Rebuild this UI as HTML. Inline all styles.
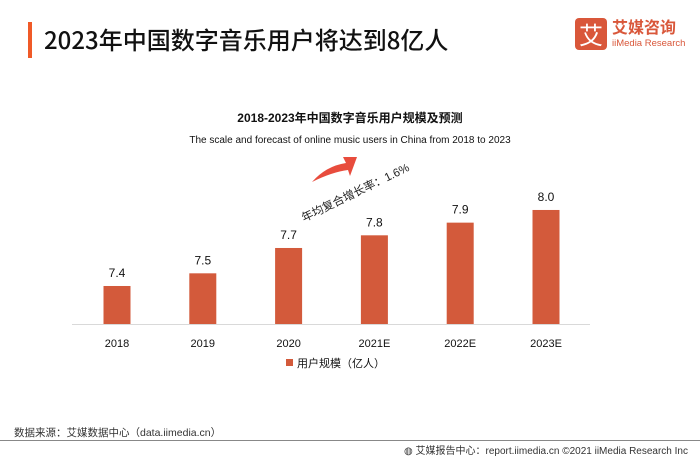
<!DOCTYPE html>
<html><head><meta charset="utf-8"><style>
body{margin:0;width:700px;height:455px;background:#fff;overflow:hidden;font-family:"Liberation Sans","Noto Sans CJK SC",sans-serif;position:relative}
.a{position:absolute;white-space:nowrap}
</style></head><body>
<div class="a" style="left:28px;top:22px;width:4px;height:36px;background:#f05a28"></div>
<div class="a" style="left:44px;top:22px;font-size:24px;color:#111;font-weight:500;font-family:'Noto Sans CJK SC',sans-serif;line-height:34px">2023年中国数字音乐用户将达到8亿人</div>
<div class="a" style="left:575px;top:18px;width:32px;height:32px;background:#d9573a;border-radius:4px;color:#fff;font-size:24px;line-height:32px;text-align:center;font-family:'Noto Sans CJK SC',sans-serif">艾</div>
<div class="a" style="left:612px;top:16px;font-size:16px;color:#d9573a;font-weight:bold;font-family:'Noto Sans CJK SC',sans-serif;line-height:20px">艾媒咨询</div>
<div class="a" style="left:612px;top:38px;font-size:9.5px;color:#d9573a">iiMedia Research</div>
<svg class="a" style="left:0;top:0" width="700" height="455">
<text x="350" y="122" text-anchor="middle" font-size="12" font-weight="bold" fill="#111" font-family="Liberation Sans,Noto Sans CJK SC,sans-serif">2018-2023年中国数字音乐用户规模及预测</text>
<text x="350" y="143" text-anchor="middle" font-size="10" fill="#111">The scale and forecast of online music users in China from 2018 to 2023</text>
<line x1="72" y1="324.5" x2="590" y2="324.5" stroke="#d9d9d9"/>
<path d="M312,182 Q326,166 346,163 L343,157 L357,157 L350,176 L348,170 Q332,172 312,182 Z" fill="#e84c3d"/>
<text transform="translate(304,222) rotate(-26)" font-size="11.5" fill="#222" font-family="Liberation Sans,Noto Sans CJK SC,sans-serif">年均复合增长率：1.6%</text>
<g id="bars"></g>
<rect x="286" y="359" width="7" height="7" fill="#d35a3b"/>
<text x="297" y="367" font-size="11" fill="#111" font-family="Liberation Sans,Noto Sans CJK SC,sans-serif">用户规模（亿人）</text>
</svg>
<div class="a" style="left:14px;top:425px;font-size:10.5px;color:#333">数据来源：艾媒数据中心（data.iimedia.cn）</div>
<div class="a" style="left:0;top:440px;width:700px;height:1px;background:#888"></div>
<div class="a" style="right:12px;top:442px;font-size:10px;color:#333">◍ 艾媒报告中心：report.iimedia.cn ©2021  iiMedia Research  Inc</div>
<script>
const categories=["2018","2019","2020","2021E","2022E","2023E"];
const values=[7.4,7.5,7.7,7.8,7.9,8.0];
const valueLabels=["7.4","7.5","7.7","7.8","7.9","8.0"];
const base=324,yMin=7.1,scale=126.7;
function y(v){return base-(v-yMin)*scale;}
function x(i){return 117+i*85.8;}
const g=document.getElementById('bars');const NS='http://www.w3.org/2000/svg';
categories.forEach((c,i)=>{
 const r=document.createElementNS(NS,'rect');
 
 
 r.setAttribute('x',x(i)-13.5);r.setAttribute('width',27);
 r.setAttribute('y',y(values[i]));r.setAttribute('height',base-y(values[i]));
 r.setAttribute('fill','#d35a3b');g.appendChild(r);
 const t=document.createElementNS(NS,'text');
 
 
 t.setAttribute('x',x(i));t.setAttribute('y',y(values[i])-9);t.setAttribute('text-anchor','middle');
 t.setAttribute('font-size','12');t.setAttribute('fill','#111');t.textContent=valueLabels[i];g.appendChild(t);
 const l=document.createElementNS(NS,'text');
 
 
 l.setAttribute('x',x(i));l.setAttribute('y',347);l.setAttribute('text-anchor','middle');
 l.setAttribute('font-size','11');l.setAttribute('fill','#111');l.textContent=c;g.appendChild(l);
});
</script>
</body></html>
